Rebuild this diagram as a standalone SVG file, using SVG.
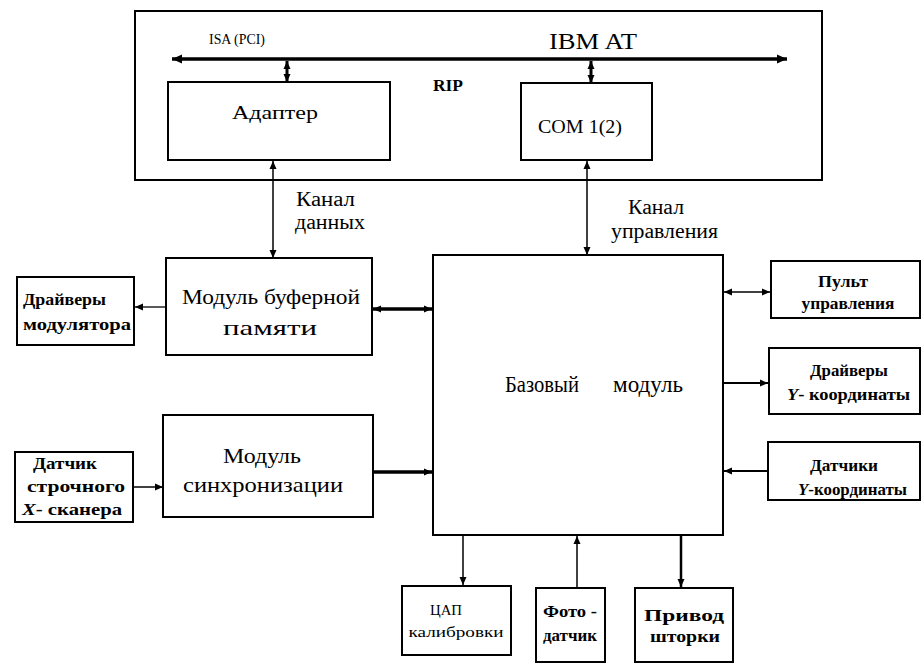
<svg xmlns="http://www.w3.org/2000/svg" width="922" height="667" viewBox="0 0 922 667" font-family="'Liberation Serif', 'Times New Roman', serif">
<style>
text{font-family:'Liberation Serif','Times New Roman',serif;fill:#000}
.box{fill:none;stroke:#000;stroke-width:2}
.b{font-weight:bold;font-size:16px}
.c{text-anchor:middle}
.ln{stroke:#000;fill:none}
</style>
<defs>
<marker id="ah" markerUnits="userSpaceOnUse" markerWidth="12" markerHeight="10" refX="10" refY="5" orient="auto-start-reverse"><path d="M0,0.5 L10,5 L0,9.5 Z" fill="#000"/></marker>
<marker id="as" markerUnits="userSpaceOnUse" markerWidth="10" markerHeight="8" refX="8" refY="4" orient="auto-start-reverse"><path d="M0,0.5 L8,4 L0,7.5 Z" fill="#000"/></marker>
</defs>
<rect width="922" height="667" fill="#fff"/>

<g id="rip">
<rect class="box" x="135" y="11" width="687" height="169"/>
<text x="209" y="44" font-size="15" textLength="56" lengthAdjust="spacingAndGlyphs">ISA  (PCI)</text>
<text x="549" y="49" font-size="23" textLength="88" lengthAdjust="spacingAndGlyphs">IBM AT</text>
<text x="433" y="91" font-size="16" font-weight="bold" textLength="30" lengthAdjust="spacingAndGlyphs">RIP</text>
</g>
<g id="adapter">
<rect class="box" x="168" y="82" width="222" height="78"/>
<text class="c" x="275" y="119" font-size="18" textLength="86" lengthAdjust="spacingAndGlyphs">Адаптер</text>
</g>
<g id="com">
<rect class="box" x="521" y="83" width="131" height="77"/>
<text class="c" x="580" y="133" font-size="19" textLength="84" lengthAdjust="spacingAndGlyphs">COM 1(2)</text>
</g>
<g id="buffer">
<rect class="box" x="166" y="258" width="206" height="97"/>
<text class="c" x="271" y="304" font-size="22" textLength="178" lengthAdjust="spacingAndGlyphs">Модуль буферной</text>
<text class="c" x="270" y="335" font-size="22" textLength="94" lengthAdjust="spacingAndGlyphs">памяти</text>
</g>
<g id="drv-mod">
<rect class="box" x="17" y="277" width="117" height="68"/>
<text class="b" x="23" y="305" textLength="83" lengthAdjust="spacingAndGlyphs">Драйверы</text>
<text class="b" x="23" y="330" textLength="108" lengthAdjust="spacingAndGlyphs">модулятора</text>
</g>
<g id="sync">
<rect class="box" x="163" y="415" width="210" height="102"/>
<text class="c" x="262" y="463" font-size="22" textLength="78" lengthAdjust="spacingAndGlyphs">Модуль</text>
<text class="c" x="263" y="492" font-size="22" textLength="160" lengthAdjust="spacingAndGlyphs">синхронизации</text>
</g>
<g id="xsensor">
<rect class="box" x="15" y="452" width="118" height="70"/>
<text class="b" x="33" y="469" textLength="64" lengthAdjust="spacingAndGlyphs">Датчик</text>
<text class="b" x="27" y="492" textLength="98" lengthAdjust="spacingAndGlyphs">строчного</text>
<text class="b" x="22" y="515" textLength="100" lengthAdjust="spacingAndGlyphs"><tspan font-style="italic">X</tspan>- сканера</text>
</g>
<g id="base">
<rect class="box" x="433" y="255" width="290" height="280" stroke-width="2.5"/>
<text x="505" y="392" font-size="23" textLength="74" lengthAdjust="spacingAndGlyphs">Базовый</text>
<text x="613" y="392" font-size="23" textLength="70" lengthAdjust="spacingAndGlyphs">модуль</text>
</g>
<g id="panel">
<rect class="box" x="771" y="261" width="149" height="57"/>
<text class="b c" x="843" y="287" textLength="50" lengthAdjust="spacingAndGlyphs">Пульт</text>
<text class="b c" x="848" y="309" textLength="93" lengthAdjust="spacingAndGlyphs">управления</text>
</g>
<g id="drv-y">
<rect class="box" x="769" y="348" width="151" height="66"/>
<text class="b c" x="849" y="376" textLength="78" lengthAdjust="spacingAndGlyphs">Драйверы</text>
<text class="b" x="787" y="400" textLength="123" lengthAdjust="spacingAndGlyphs"><tspan font-style="italic">Y</tspan>- координаты</text>
</g>
<g id="sens-y">
<rect class="box" x="768" y="442" width="152" height="58"/>
<text class="b c" x="844" y="471" textLength="68" lengthAdjust="spacingAndGlyphs">Датчики</text>
<text class="b" x="798" y="495" textLength="109" lengthAdjust="spacingAndGlyphs"><tspan font-style="italic">Y</tspan>-координаты</text>
</g>
<g id="dac">
<rect class="box" x="402" y="586" width="109" height="69"/>
<text class="c" x="446" y="615" font-size="15" textLength="32" lengthAdjust="spacingAndGlyphs">ЦАП</text>
<text class="c" x="456" y="637" font-size="14" textLength="95" lengthAdjust="spacingAndGlyphs">калибровки</text>
</g>
<g id="photo">
<rect class="box" x="536" y="588" width="69" height="74"/>
<text class="b c" x="570" y="617" textLength="54" lengthAdjust="spacingAndGlyphs">Фото -</text>
<text class="b c" x="570" y="641" textLength="54" lengthAdjust="spacingAndGlyphs">датчик</text>
</g>
<g id="shutter">
<rect class="box" x="635" y="588" width="98" height="74"/>
<text class="b c" x="684" y="621" textLength="80" lengthAdjust="spacingAndGlyphs">Привод</text>
<text class="b c" x="685" y="642" textLength="70" lengthAdjust="spacingAndGlyphs">шторки</text>
</g>

<g id="connectors">
<line class="ln" x1="172" y1="59" x2="787" y2="59" stroke-width="3.5" marker-start="url(#ah)" marker-end="url(#ah)"/>
<line class="ln" x1="287" y1="61" x2="287" y2="82" stroke-width="3" marker-start="url(#as)" marker-end="url(#as)"/>
<line class="ln" x1="591" y1="61" x2="591" y2="83" stroke-width="3" marker-start="url(#as)" marker-end="url(#as)"/>
<line class="ln" x1="273" y1="161" x2="273" y2="258" stroke-width="1.5" marker-start="url(#as)" marker-end="url(#as)"/>
<text x="296" y="206" font-size="20" textLength="59" lengthAdjust="spacingAndGlyphs">Канал</text>
<text x="295" y="229" font-size="20" textLength="70" lengthAdjust="spacingAndGlyphs">данных</text>
<line class="ln" x1="587" y1="161" x2="587" y2="255" stroke-width="1.5" marker-start="url(#as)" marker-end="url(#as)"/>
<text x="628" y="214" font-size="20" textLength="56" lengthAdjust="spacingAndGlyphs">Канал</text>
<text x="611" y="238" font-size="20" textLength="107" lengthAdjust="spacingAndGlyphs">управления</text>
<line class="ln" x1="373" y1="309" x2="432" y2="309" stroke-width="3.5" marker-start="url(#as)" marker-end="url(#as)"/>
<line class="ln" x1="166" y1="307" x2="135" y2="307" stroke-width="1.3" marker-end="url(#as)"/>
<line class="ln" x1="133" y1="487" x2="163" y2="487" stroke-width="1.5" marker-end="url(#as)"/>
<line class="ln" x1="373" y1="472" x2="432" y2="472" stroke-width="3.5" marker-end="url(#as)"/>
<line class="ln" x1="724" y1="292" x2="770" y2="292" stroke-width="1.5" marker-start="url(#as)" marker-end="url(#as)"/>
<line class="ln" x1="724" y1="383" x2="768" y2="383" stroke-width="2" marker-end="url(#as)"/>
<line class="ln" x1="768" y1="471" x2="724" y2="471" stroke-width="2" marker-end="url(#as)"/>
<line class="ln" x1="463" y1="536" x2="463" y2="585" stroke-width="1.5" marker-end="url(#as)"/>
<line class="ln" x1="577" y1="587" x2="577" y2="536" stroke-width="1.5" marker-end="url(#as)"/>
<line class="ln" x1="681" y1="536" x2="681" y2="587" stroke-width="2.5" marker-end="url(#as)"/>
</g>
</svg>
